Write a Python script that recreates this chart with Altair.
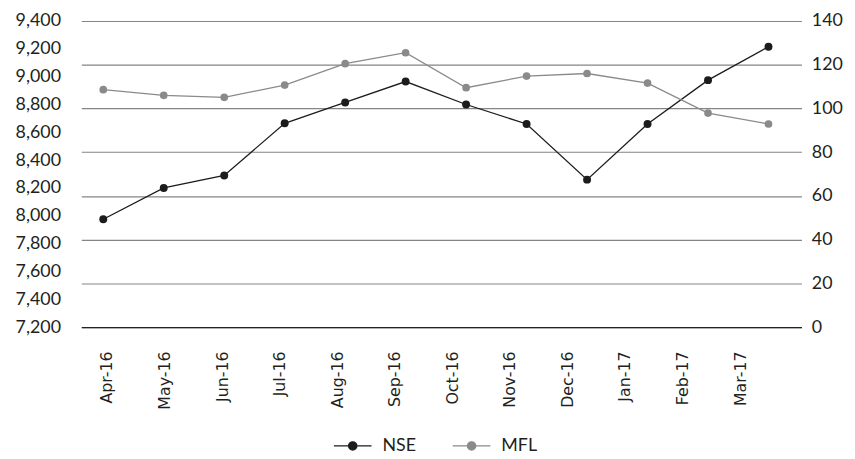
import altair as alt
import pandas as pd

months = ["Apr-16", "May-16", "Jun-16", "Jul-16", "Aug-16", "Sep-16",
          "Oct-16", "Nov-16", "Dec-16", "Jan-17", "Feb-17", "Mar-17"]
nse = [7975, 8200, 8290, 8665, 8815, 8965, 8800, 8660, 8260, 8660, 8975, 9215]
mfl = [108.6, 106.0, 105.1, 110.7, 120.5, 125.5, 109.5, 114.8, 116.0, 111.6, 97.9, 92.9]
left_ticks = list(range(7200, 9401, 200))
right_ticks = list(range(0, 141, 20))
series = ["NSE", "MFL"]
colors = ["#1c1c1c", "#8a8a8a"]

df = pd.DataFrame({"month": months, "NSE": nse, "MFL": mfl})

NUM_FONT = "Lato"
X_FONT = "DejaVu Sans"
TXT = "#231f20"

legend_path = "M-1,0H1M0.22,0A0.22,0.22,0,1,1,-0.22,0A0.22,0.22,0,1,1,0.22,0Z"

color = alt.Color(
    "series:N",
    scale=alt.Scale(domain=series, range=colors),
    legend=alt.Legend(
        title=None, orient="none", legendX=254, legendY=409,
        direction="horizontal", symbolType=legend_path, symbolSize=1444,
        symbolStrokeWidth=1.3, labelFont=NUM_FONT, labelFontSize=18,
        labelColor=TXT, labelOffset=10, columnPadding=34, padding=0,
    ),
)

x_data = alt.X("month:N", sort=months,
               scale=alt.Scale(type="point", padding=0.454, align=0.4),
               axis=None)

y_left = alt.Y(
    "NSE:Q",
    scale=alt.Scale(domain=[7200, 9400], nice=False, zero=False),
    axis=alt.Axis(orient="left", values=left_ticks,
                  labelExpr="format(datum.value, ',')", grid=False,
                  ticks=False, domain=False, labelPadding=21, title=None,
                  labelFont=NUM_FONT, labelFontSize=18, labelColor=TXT),
)
y_right = alt.Y(
    "MFL:Q",
    scale=alt.Scale(domain=[0, 140], nice=False),
    axis=alt.Axis(orient="right", values=right_ticks, grid=True,
                  gridColor="#858585", gridWidth=1.2,
                  ticks=False, domain=False, labelPadding=10, title=None,
                  labelFont=NUM_FONT, labelFontSize=18, labelColor=TXT),
)

base = alt.Chart(df)

nse_line = base.transform_calculate(series="'NSE'").mark_line(strokeWidth=1.3).encode(
    x=x_data, y=y_left, color=color,
)
nse_pt = base.transform_calculate(series="'NSE'").mark_point(filled=True, size=64, opacity=1).encode(
    x=x_data, y=y_left, color=color,
)

mfl_line = base.transform_calculate(series="'MFL'").mark_line(strokeWidth=1.3).encode(
    x=x_data, y=y_right, color=color,
)
mfl_pt = base.transform_calculate(series="'MFL'").mark_point(filled=True, size=60, opacity=1).encode(
    x=x_data, y=y_right, color=color,
)

axis_layer = base.mark_rule(opacity=0).encode(
    x=alt.X("month:N", sort=months,
            scale=alt.Scale(type="point", padding=0.756, align=0.295),
            axis=alt.Axis(labelAngle=270, ticks=False, labelPadding=24, title=None,
                          domainColor="#222222", domainWidth=1.3,
                          labelFont=X_FONT, labelFontSize=16, labelColor=TXT)),
)

chart = alt.layer(
    alt.layer(nse_line, nse_pt),
    alt.layer(mfl_line, mfl_pt),
    axis_layer,
).resolve_scale(
    x="independent", y="independent"
).properties(
    width=727, height=309,
    autosize=alt.AutoSizeParams(type="none"),
    padding={"left": 74, "top": 11, "right": 46, "bottom": 131},
).configure_view(stroke=None)

chart.save("out.html", embed_options={"renderer": "svg", "actions": False})
